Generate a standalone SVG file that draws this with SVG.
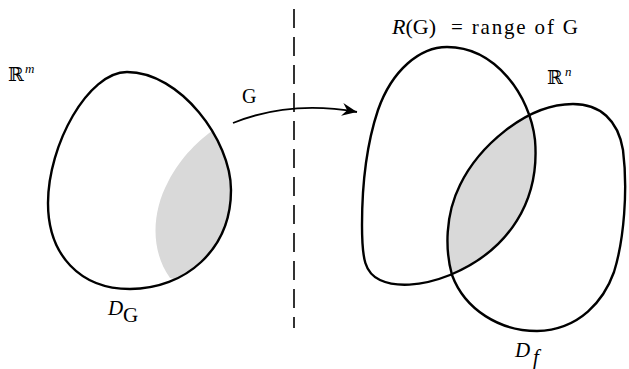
<svg xmlns="http://www.w3.org/2000/svg" width="629" height="369" viewBox="0 0 629 369">
<style>
.blob{fill:none;stroke:#000;stroke-width:2.4;stroke-linejoin:round}
.shade{fill:#d9d9d9;stroke:none}
.t{font-family:"Liberation Serif","Times New Roman",serif;fill:#000}
.bb{font-family:"DejaVu Serif",serif;fill:#000}
.i{font-style:italic}
</style>
<defs>
<path id="pL" d="M127,72 C180,72 231,140 231,190 C231,250 185,289 130,289 C80,289 48,255 48,203 C48,145 88,72 127,72 Z"/>
<path id="pA" d="M447,47 C495,47 530,95 535,140 C540,200 510,250 450,275 C420,287 395,287 380,280 C365,273 362,260 362,225 C362,180 368,140 378,110 C392,70 420,47 447,47 Z"/>
<path id="pB" d="M573,104 C600,104 618,120 623,150 C628,190 624,240 614,272 C604,300 580,330 537,331 C500,331 465,310 452,275 C445,250 445,215 460,185 C478,148 525,104 573,104 Z"/>
<clipPath id="cL"><use href="#pL"/></clipPath>
<clipPath id="cA"><use href="#pA"/></clipPath>
<marker id="ah" viewBox="-16 -8 18 16" refX="0" refY="0" markerWidth="18" markerHeight="16" markerUnits="userSpaceOnUse" orient="auto">
<path d="M0,0 L-15,-6.5 L-10,0 L-15,6.5 Z" fill="#000"/>
</marker>
</defs>

<g id="separator">
<line x1="294" y1="9" x2="294" y2="328" stroke="#000" stroke-width="1.6" stroke-dasharray="19 9"/>
</g>

<g id="domain-G">
<path class="shade" clip-path="url(#cL)" d="M213,130 C200,140 182,155 168,182 C152,212 150,250 170,278 L260,300 L260,100 Z"/>
<use href="#pL" class="blob"/>
<text class="bb" x="8" y="81" font-size="19">ℝ</text>
<text class="t i" x="25" y="73" font-size="13">m</text>
<text class="t i" x="108" y="315" font-size="21">D</text>
<text class="t" x="123" y="322" font-size="21">G</text>
</g>

<g id="range-G">
<path class="shade" clip-path="url(#cA)" d="M573,104 C600,104 618,120 623,150 C628,190 624,240 614,272 C604,300 580,330 537,331 C500,331 465,310 452,275 C445,250 445,215 460,185 C478,148 525,104 573,104 Z"/>
<use href="#pA" class="blob"/>
<text class="t" x="392" y="34" font-size="22"><tspan class="i">R</tspan>(G)</text>
<text class="t" x="451" y="34" font-size="21" textLength="127" lengthAdjust="spacing">= range of G</text>
</g>

<g id="domain-f">
<use href="#pB" class="blob"/>
<text class="bb" x="547" y="84" font-size="19">ℝ</text>
<text class="t i" x="565" y="76" font-size="13">n</text>
<text class="t i" x="515" y="357" font-size="21">D</text>
<text class="t i" x="533" y="364" font-size="21">f</text>
</g>

<g id="connectors">
<path d="M233,123 Q290,100 357,112" fill="none" stroke="#000" stroke-width="1.8" marker-end="url(#ah)"/>
<text class="t" x="242" y="103" font-size="20">G</text>
</g>
</svg>
